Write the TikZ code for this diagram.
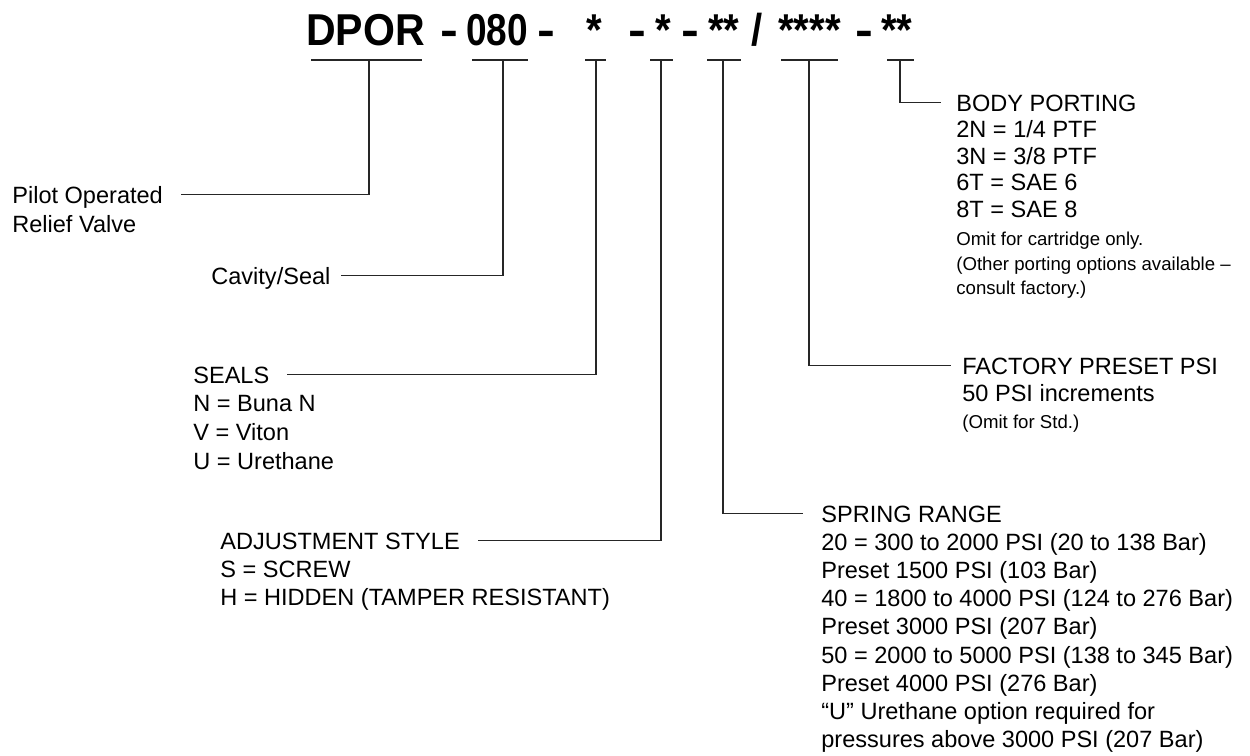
\documentclass[tikz,border=0pt]{standalone}
\usepackage{fontspec}
\setmainfont{Liberation Sans}
\usepackage{graphicx}
\usetikzlibrary{positioning,calc}

\tikzset{
    code/.style={inner sep=0pt, anchor=base west, font=\fontsize{25.4}{30}\selectfont\bfseries},
    head/.style={inner sep=0pt, anchor=base west, text height=9.6pt, text depth=0pt, font=\fontsize{13.4}{16}\selectfont},
    opt/.style={inner sep=0pt, anchor=base west, font=\fontsize{13.4}{16}\selectfont},
    note/.style={inner sep=0pt, anchor=base west, font=\fontsize{10.6}{13}\selectfont},
    bar/.style={line width=0.6pt, draw=black!85},
    lead/.style={line width=0.6pt, draw=black!85, shorten >=10pt}
}

\begin{document}
\begin{tikzpicture}[x=0.02cm, y=-0.02cm]
    \useasboundingbox (0,0) rectangle (1250,755);

    % model code
    \foreach \x/\t/\s [count=\i] in {306/DPOR/0.92, 440/-/1.2, 466/080/0.83, 537/-/1.2, 586/*/0.9, 628/-/1.2, 655/*/0.9, 681/-/1.2,
        708/**/0.9, 751/{/}/0.9, 778/****/0.9, 855/-/1.2, 881/**/0.9}
        \node[code] (t\i) at (\x,45) {\scalebox{\s}[1]{\t}};

    % bars under the code
    \foreach \l/\m/\r [count=\i] in {311/369/422, 472/503/528, 585/596/606, 650/661/673, 707/723/741, 781/809/838, 887/900/914} {
        \draw[bar] (\l,60) -- (\r,60);
        \coordinate (s\i) at (\m,60);
    }

    % left side
    \node[head] (pilot) at (12,203) {Pilot Operated};
    \node[opt] (pilot1) at ($(pilot.base west)+(0,29)$) {Relief Valve};

    \node[head] (cavity) at (211,284) {Cavity/Seal};

    \node[head] (seals) at (193,383) {SEALS};
    \foreach \t [count=\i] in {N = Buna N, V = Viton, U = Urethane}
        \node[opt] (seals\i) at ($(seals.base west)+(0,28.7*\i)$) {\t};

    \node[head] (adjust) at (220,549) {ADJUSTMENT STYLE};
    \foreach \t [count=\i] in {S = SCREW, H = HIDDEN (TAMPER RESISTANT)}
        \node[opt] (adjust\i) at ($(adjust.base west)+(0,28*\i)$) {\t};

    % right side
    \node[head] (bodyport) at (956,111) {BODY PORTING};
    \foreach \t [count=\i] in {2N = 1/4 PTF, 3N = 3/8 PTF, 6T = SAE 6, 8T = SAE 8}
        \node[opt] (bodyport\i) at ($(bodyport.base west)+(0,26.6*\i)$) {\t};
    \foreach \t [count=\i] in {{Omit for cartridge only.}, {(Other porting options available –}, {consult factory.)}}
        \node[note] (bpnote\i) at ($(bodyport.base west)+(0,110.2+24.5*\i)$) {\t};

    \node[head] (factory) at (962,374) {FACTORY PRESET PSI};
    \node[opt] (factory1) at ($(factory.base west)+(0,27.7)$) {50 PSI increments};
    \node[note] (factory2) at ($(factory.base west)+(0,54)$) {(Omit for Std.)};

    \node[head] (spring) at (821,522) {SPRING RANGE};
    \foreach \t [count=\i] in {20 = 300 to 2000 PSI (20 to 138 Bar), Preset 1500 PSI (103 Bar),
        40 = 1800 to 4000 PSI (124 to 276 Bar), Preset 3000 PSI (207 Bar),
        50 = 2000 to 5000 PSI (138 to 345 Bar), Preset 4000 PSI (276 Bar),
        “U” Urethane option required for, pressures above 3000 PSI (207 Bar)}
        \node[opt] (spring\i) at ($(spring.base west)+(0,28.2*\i)$) {\t};

    % leaders
    \draw[lead] (s1) |- (pilot.east);
    \draw[lead, shorten >=6pt] (s2) |- (cavity.east);
    \draw[lead] (s3) |- (seals.east);
    \draw[lead] (s4) |- (adjust.east);
    \draw[lead] (s5) |- (spring.west);
    \draw[lead, shorten >=6pt] (s6) |- (factory.west);
    \draw[lead, shorten >=8.5pt] (s7) |- (bodyport.west);
\end{tikzpicture}
\end{document}
